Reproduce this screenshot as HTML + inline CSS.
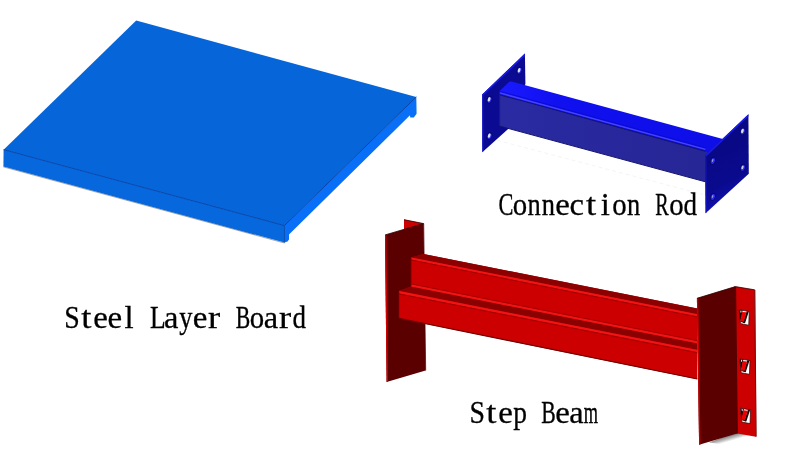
<!DOCTYPE html>
<html>
<head>
<meta charset="utf-8">
<title>Rack parts</title>
<style>
  html, body { margin: 0; padding: 0; background: #ffffff; }
  body { width: 800px; height: 458px; overflow: hidden; font-family: "Liberation Serif", serif; }
  svg { display: block; }
  .lbl { font-family: "Liberation Serif", serif; fill: #000; stroke: #000; stroke-width: 0.3px; }
  .lbl text { vector-effect: non-scaling-stroke; }
</style>
</head>
<body>
<svg width="800" height="458" viewBox="0 0 800 458">
  <defs>
    <linearGradient id="shadow" gradientUnits="userSpaceOnUse" x1="728" y1="436.6" x2="729.4" y2="441.4">
      <stop offset="0" stop-color="#8e8e8e"/>
      <stop offset="0.5" stop-color="#c4c4c4"/>
      <stop offset="1" stop-color="#ffffff"/>
    </linearGradient>
    <linearGradient id="rodFront" x1="0" y1="0" x2="1" y2="0">
      <stop offset="0" stop-color="#2a2aa2"/>
      <stop offset="1" stop-color="#262696"/>
    </linearGradient>
    <linearGradient id="plateR" gradientUnits="userSpaceOnUse" x1="716" y1="150" x2="738" y2="192">
      <stop offset="0" stop-color="#090986"/>
      <stop offset="0.7" stop-color="#0a0a8e"/>
      <stop offset="1" stop-color="#0e0ea8"/>
    </linearGradient>
    <linearGradient id="rodTop" x1="0" y1="0" x2="1" y2="0">
      <stop offset="0" stop-color="#1a1aff"/>
      <stop offset="0.25" stop-color="#1010f0"/>
      <stop offset="1" stop-color="#0e0ee8"/>
    </linearGradient>
  </defs>
  <rect width="800" height="458" fill="#ffffff"/>

  <!-- ================= Steel layer board ================= -->
  <g id="board">
    <!-- right side face (lighter) -->
    <polygon points="284.4,225.6 416.3,96.9 416.6,113.8 413.8,117.6 410.2,117.6 410,115.2 289,234.6 289,239.4 287.5,241.4 284.4,242.6" fill="#0a6ff7"/>
    <!-- front-left face -->
    <polygon points="3.6,149.7 284.4,225.6 284.4,242.6 3.4,166.4" fill="#0768de"/>
    <!-- top face -->
    <polygon points="136.2,20.5 416.3,96.9 284.4,225.6 3.6,149.7" fill="#0666d9"/>
    <!-- edges -->
    <polyline points="3.6,149.7 284.4,225.6 416.3,96.9" fill="none" stroke="#0644aa" stroke-width="1"/>
    <line x1="284.4" y1="225.6" x2="284.4" y2="242.6" stroke="#054db2" stroke-width="1"/>
    <line x1="3.4" y1="166.9" x2="284.4" y2="243" stroke="#3a4a66" stroke-width="0.8" opacity="0.6"/>
  </g>

  <!-- ================= Connection rod ================= -->
  <g id="rod">
    <!-- faint ground line -->
    <line x1="497" y1="140.3" x2="703" y2="194.4" stroke="#f1f1f1" stroke-width="0.8" stroke-dasharray="4 3"/>
    <!-- left plate -->
    <polygon points="482.2,94.4 524.9,53.6 525.4,84 508.4,128.8 482.3,152.3" fill="#0a0a92"/>
    <polygon points="482.2,94.4 524.9,53.6 525.1,55.6 483.2,95.6" fill="#1a1af0"/>
    <polygon points="482.2,94.4 483.3,93.4 483.4,151.3 482.3,152.3" fill="#1a1ad0"/>
    <!-- beam top face -->
    <polygon points="499.6,95.2 499.6,90.9 509.3,81.8 511.5,81.5 722.8,139 707.4,156.6 705.4,153" fill="url(#rodTop)"/>
    <!-- beam front face -->
    <polygon points="499.6,95 705.4,151.6 707.4,152.2 707.4,182.3 705.4,181.8 499.6,126.1" fill="url(#rodFront)"/>
    <!-- bead: crease / highlight / crease -->
    <line x1="499.8" y1="91.3" x2="705.4" y2="147.8" stroke="#0a0ac8" stroke-width="0.8"/>
    <line x1="499.8" y1="92.9" x2="705.4" y2="149.4" stroke="#4444ff" stroke-width="1.5"/>
    <line x1="499.6" y1="94.7" x2="705.4" y2="151.3" stroke="#14146e" stroke-width="1.1"/>
    <line x1="499.6" y1="126.1" x2="705.4" y2="181.8" stroke="#15156a" stroke-width="1"/>
    <line x1="499.7" y1="93" x2="499.7" y2="126" stroke="#1a1a88" stroke-width="0.8"/>
    <!-- right plate -->
    <polygon points="705.2,155.2 748.4,114.2 748.8,173.8 705.6,213.2" fill="url(#plateR)"/>
    <polygon points="705.2,155.2 748.4,114.2 748.5,116.2 706.4,156.2" fill="#1a1af0"/>
    <polygon points="705.2,155.2 706.3,154.2 706.7,212.2 705.6,213.2" fill="#1616c4"/>
    <!-- holes -->
    <g id="holes">
      <g transform="rotate(18 519.3 70.6)"><ellipse cx="519.3" cy="70.6" rx="2.7" ry="4.0" fill="#08086a"/><ellipse cx="519.5" cy="70.69999999999999" rx="1.9" ry="3.1" fill="#2a2af2"/><ellipse cx="519.0" cy="70.3" rx="1.25" ry="2.3" fill="#e2e2ee"/></g>
      <g transform="rotate(18 489.3 99.7)"><ellipse cx="489.3" cy="99.7" rx="2.7" ry="4.0" fill="#08086a"/><ellipse cx="489.5" cy="99.8" rx="1.9" ry="3.1" fill="#2a2af2"/><ellipse cx="489.0" cy="99.4" rx="1.25" ry="2.3" fill="#e2e2ee"/></g>
      <g transform="rotate(18 489.4 136.0)"><ellipse cx="489.4" cy="136.0" rx="2.7" ry="4.0" fill="#08086a"/><ellipse cx="489.59999999999997" cy="136.1" rx="1.9" ry="3.1" fill="#2a2af2"/><ellipse cx="489.09999999999997" cy="135.7" rx="1.25" ry="2.3" fill="#e2e2ee"/></g>
      <g transform="rotate(18 742.6 131.3)"><ellipse cx="742.6" cy="131.3" rx="2.7" ry="4.0" fill="#08086a"/><ellipse cx="742.8000000000001" cy="131.4" rx="1.9" ry="3.1" fill="#2a2af2"/><ellipse cx="742.3000000000001" cy="131.0" rx="1.25" ry="2.3" fill="#e2e2ee"/></g>
      <g transform="rotate(18 742.7 167.8)"><ellipse cx="742.7" cy="167.8" rx="2.7" ry="4.0" fill="#08086a"/><ellipse cx="742.9000000000001" cy="167.9" rx="1.9" ry="3.1" fill="#2a2af2"/><ellipse cx="742.4000000000001" cy="167.5" rx="1.0" ry="2.0" fill="#d0d0e4"/></g>
      <g transform="rotate(18 712.8 160.8)"><ellipse cx="712.8" cy="160.8" rx="2.7" ry="4.0" fill="#08086a"/><ellipse cx="713.0" cy="160.9" rx="1.9" ry="3.1" fill="#2a2af2"/><ellipse cx="712.5" cy="160.5" rx="0.7" ry="1.5" fill="#9a9ad8"/></g>
      <g transform="rotate(18 712.8 196.8)"><ellipse cx="712.8" cy="196.8" rx="2.7" ry="4.0" fill="#08086a"/><ellipse cx="713.0" cy="196.9" rx="1.9" ry="3.1" fill="#2a2af2"/><ellipse cx="712.5" cy="196.5" rx="0.7" ry="1.5" fill="#9a9ad8"/></g>
    </g>
  </g>

  <!-- ================= Step beam ================= -->
  <g id="beam">
    <!-- left upright: rear flange (bright) -->
    <polygon points="404,219.6 423.6,223.5 404,230" fill="#cc0000"/>
    <!-- left upright: dark plate -->
    <polygon points="385,234.9 423.6,223.5 425.6,370.6 386.6,381.9" fill="#5a0000"/>
    <polygon points="385,234.9 386.4,234.5 388,381.5 386.6,381.9" fill="#d40000"/>

    <polyline points="385.2,234.9 423.6,223.6 404,219.7" fill="none" stroke="#2e0000" stroke-width="0.8"/>
    <line x1="423.7" y1="223.6" x2="425.7" y2="370.5" stroke="#3c0000" stroke-width="0.7"/>
    <!-- beam silhouette base (bright red) -->
    <polygon points="411.3,257.4 423.6,254 697.4,308.6 697.4,379.3 399,318.4 399,291 411.2,286.5" fill="#cc0000"/>
    <!-- beam top face (dark) -->
    <polygon points="411.3,257.4 423.6,254 697.4,308.6 697.4,314.2" fill="#8b0000"/>
    <!-- step ledge (dark) -->
    <polygon points="411.2,286.2 697.4,343.4 697.4,349.8 399,291" fill="#8b0000"/>
    <!-- highlights -->
    <line x1="411.3" y1="258.4" x2="697.4" y2="315.3" stroke="#f21414" stroke-width="2"/>
    <line x1="411.2" y1="285.4" x2="697.4" y2="342.2" stroke="#f21414" stroke-width="2.2"/>
    <line x1="399" y1="292.2" x2="697.4" y2="351" stroke="#f21414" stroke-width="2.2"/>
    <!-- creases -->
    <line x1="411.3" y1="260.1" x2="697.4" y2="317" stroke="#960000" stroke-width="0.8"/>
    <line x1="411.2" y1="283.9" x2="697.4" y2="340.7" stroke="#9c0000" stroke-width="0.8"/>
    <line x1="399" y1="294" x2="697.4" y2="352.8" stroke="#960000" stroke-width="0.8"/>
    <line x1="399" y1="318.2" x2="697.4" y2="379" stroke="#6e0000" stroke-width="1.1"/>
    <line x1="411.2" y1="258" x2="411.2" y2="286" stroke="#a00000" stroke-width="0.8"/>
    <line x1="399.2" y1="292" x2="399.2" y2="318" stroke="#a00000" stroke-width="0.8"/>

    <!-- right upright shadow -->
    <polygon points="737.2,432 753,437 741,439.6 720,444 709,442.4" fill="url(#shadow)"/>
    <!-- right upright: bright flange -->
    <polygon points="734.3,286.4 735.3,286.5 754.6,289.7 755.9,436.7 737.2,433.5 736.2,433.7" fill="#cc0000"/>
    <line x1="754.7" y1="289.9" x2="756" y2="436.6" stroke="#a00000" stroke-width="0.6"/>
    <!-- right upright: dark face -->
    <polygon points="696.9,298.2 735.3,286.5 737.2,433.5 699.1,444.8" fill="#5a0000"/>
    <polygon points="696.9,298.2 698.3,297.8 700.5,444.4 699.1,444.8" fill="#c80000"/>
    <polyline points="697,298.3 735.3,286.6 754.6,289.8" fill="none" stroke="#2e0000" stroke-width="0.8"/>
    <line x1="754.8" y1="289.9" x2="756.1" y2="436.6" stroke="#6a0000" stroke-width="0.9"/>
    <line x1="735.6" y1="287" x2="737.4" y2="433.4" stroke="#3c0000" stroke-width="0.8"/>
    <!-- hook holes -->
    <g>
      <g id="hook">
        <polygon points="739.2,309.8 749.3,311.5 748.7,325.2 740.5,323.6" fill="#ffffff" stroke="#3a0000" stroke-width="0.7"/>
        <polygon points="739.3,310 742.6,310.5 741.8,316.5 740.2,321.6" fill="#1e0000"/>
        <polygon points="740.3,310.7 741.5,310.9 741.2,312.8 740.6,312.7" fill="#ffffff"/>
        <polygon points="746.7,311.2 748.8,311.5 745,323.2 742.8,322.5" fill="#1a0000"/>
        <polygon points="742,311.9 746.4,312.3 743.6,322.2 740.2,321.2" fill="#ee0000"/>
        <line x1="740.6" y1="321.4" x2="744.4" y2="322.6" stroke="#1a0000" stroke-width="0.9"/>
      </g>
      <g transform="translate(0.7 49.1)">
        <polygon points="739.2,309.8 749.3,311.5 748.7,325.2 740.5,323.6" fill="#ffffff" stroke="#3a0000" stroke-width="0.7"/>
        <polygon points="739.3,310 742.6,310.5 741.8,316.5 740.2,321.6" fill="#1e0000"/>
        <polygon points="740.3,310.7 741.5,310.9 741.2,312.8 740.6,312.7" fill="#ffffff"/>
        <polygon points="746.7,311.2 748.8,311.5 745,323.2 742.8,322.5" fill="#1a0000"/>
        <polygon points="742,311.9 746.4,312.3 743.6,322.2 740.2,321.2" fill="#ee0000"/>
        <line x1="740.6" y1="321.4" x2="744.4" y2="322.6" stroke="#1a0000" stroke-width="0.9"/>
      </g>
      <g transform="translate(1.3 98.4)">
        <polygon points="739.2,309.8 749.3,311.5 748.7,325.2 740.5,323.6" fill="#ffffff" stroke="#3a0000" stroke-width="0.7"/>
        <polygon points="739.3,310 742.6,310.5 741.8,316.5 740.2,321.6" fill="#1e0000"/>
        <polygon points="740.3,310.7 741.5,310.9 741.2,312.8 740.6,312.7" fill="#ffffff"/>
        <polygon points="746.7,311.2 748.8,311.5 745,323.2 742.8,322.5" fill="#1a0000"/>
        <polygon points="742,311.9 746.4,312.3 743.6,322.2 740.2,321.2" fill="#ee0000"/>
        <line x1="740.6" y1="321.4" x2="744.4" y2="322.6" stroke="#1a0000" stroke-width="0.9"/>
      </g>
    </g>
  </g>

  <!-- ================= Labels ================= -->
  <g class="lbl" id="labels" opacity="0.999" aria-label="Steel Layer Board, Connection Rod, Step Beam">
    <text transform="translate(64.30 327.8) scale(0.898 1)" font-size="31.0">S</text>
    <text transform="translate(81.18 327.8) scale(1.180 1)" font-size="31.0">t</text>
    <text transform="translate(93.16 327.8) scale(1.063 1)" font-size="31.0">e</text>
    <text transform="translate(107.38 327.8) scale(1.063 1)" font-size="31.0">e</text>
    <text transform="translate(124.43 327.8) scale(1.060 1)" font-size="31.0">l</text>
    <text transform="translate(149.99 327.8) scale(0.828 1)" font-size="31.0">L</text>
    <text transform="translate(164.11 327.8) scale(1.045 1)" font-size="31.0">a</text>
    <text transform="translate(179.15 327.8) scale(0.853 1)" font-size="31.0">y</text>
    <text transform="translate(192.70 327.8) scale(1.063 1)" font-size="31.0">e</text>
    <text transform="translate(208.01 327.8) scale(1.180 1)" font-size="31.0">r</text>
    <text transform="translate(235.72 327.8) scale(0.701 1)" font-size="31.0">B</text>
    <text transform="translate(249.77 327.8) scale(0.929 1)" font-size="31.0">o</text>
    <text transform="translate(263.65 327.8) scale(1.045 1)" font-size="31.0">a</text>
    <text transform="translate(279.11 327.8) scale(1.180 1)" font-size="31.0">r</text>
    <text transform="translate(292.55 327.8) scale(0.871 1)" font-size="31.0">d</text>
    <text transform="translate(498.39 214.6) scale(0.723 1)" font-size="31.0">C</text>
    <text transform="translate(512.73 214.6) scale(0.929 1)" font-size="31.0">o</text>
    <text transform="translate(527.44 214.6) scale(0.852 1)" font-size="31.0">n</text>
    <text transform="translate(541.66 214.6) scale(0.852 1)" font-size="31.0">n</text>
    <text transform="translate(555.20 214.6) scale(1.063 1)" font-size="31.0">e</text>
    <text transform="translate(569.47 214.6) scale(1.049 1)" font-size="31.0">c</text>
    <text transform="translate(585.88 214.6) scale(1.180 1)" font-size="31.0">t</text>
    <text transform="translate(600.65 214.6) scale(1.060 1)" font-size="31.0">i</text>
    <text transform="translate(612.27 214.6) scale(0.929 1)" font-size="31.0">o</text>
    <text transform="translate(626.98 214.6) scale(0.852 1)" font-size="31.0">n</text>
    <text transform="translate(655.15 214.6) scale(0.648 1)" font-size="31.0">R</text>
    <text transform="translate(669.15 214.6) scale(0.929 1)" font-size="31.0">o</text>
    <text transform="translate(683.49 214.6) scale(0.871 1)" font-size="31.0">d</text>
    <text transform="translate(469.40 422.6) scale(0.898 1)" font-size="31.0">S</text>
    <text transform="translate(486.28 422.6) scale(1.180 1)" font-size="31.0">t</text>
    <text transform="translate(498.26 422.6) scale(1.063 1)" font-size="31.0">e</text>
    <text transform="translate(513.33 422.6) scale(0.885 1)" font-size="31.0">p</text>
    <text transform="translate(541.28 422.6) scale(0.701 1)" font-size="31.0">B</text>
    <text transform="translate(555.14 422.6) scale(1.063 1)" font-size="31.0">e</text>
    <text transform="translate(569.21 422.6) scale(1.045 1)" font-size="31.0">a</text>
    <text transform="translate(583.78 422.6) scale(0.592 1)" font-size="31.0">m</text>
  </g>
</svg>
</body>
</html>
